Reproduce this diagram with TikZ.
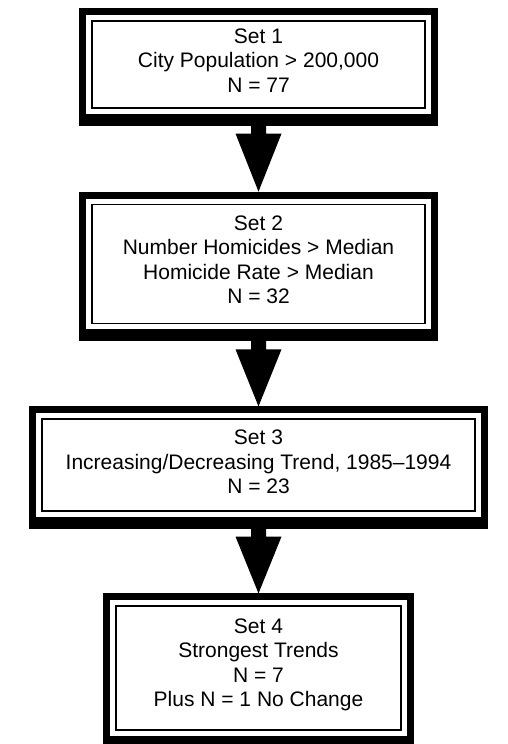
\documentclass[tikz,border=0pt]{standalone}
\usepackage{fontspec}
\setmainfont{Liberation Sans}
\usetikzlibrary{calc}
\newcommand\flowarrow[2]{%
  \coordinate (fa-s) at ([yshift=-16pt]#1.south);
  \coordinate (fa-t) at ([yshift=12pt]#2.north);
  \fill[black] ($(fa-s)+(-7.5,0)$) -- ($(fa-s)+(7.5,0)$) -- ($(fa-s)+(7.5,9)$) -- ($(fa-s)+(23,9)$) -- (fa-t) -- ($(fa-s)+(-23,9)$) -- ($(fa-s)+(-7.5,9)$) -- cycle;}
\newcommand\setframe[1]{%
  \draw[frame] ([xshift=-8.5pt,yshift=8.5pt]#1.north west) rectangle ([xshift=8.5pt,yshift=-8.5pt]#1.south east);
  \fill[black] ([xshift=-12pt,yshift=-7pt]#1.south west) rectangle ([xshift=12pt,yshift=-17pt]#1.south east);}
\begin{document}
\begin{tikzpicture}[x=1pt,y=-1pt,
  setbox/.style={draw, line width=1.2pt, inner sep=0pt},
  settext/.style={inner sep=0pt, align=center, font=\fontsize{21}{24.5}\selectfont},
  frame/.style={line width=7pt}]
\useasboundingbox (0,0) rectangle (507,744);
\node[setbox, minimum width=333pt, minimum height=87pt] (b1) at (258.5,64.5) {};
\node[setbox, minimum width=333pt, minimum height=119.5pt] (b2) at (258.5,264) {};
\node[setbox, minimum width=433pt, minimum height=92pt] (b3) at (258.5,465) {};
\node[setbox, minimum width=285pt, minimum height=124pt] (b4) at (258.5,668) {};
\node[settext] (t1) at ([yshift=4pt]b1.center) {Set 1\\City Population > 200,000\\N = 77};
\node[settext] (t2) at ([yshift=4pt]b2.center) {Set 2\\Number Homicides > Median\\Homicide Rate > Median\\N = 32};
\node[settext] (t3) at ([yshift=3pt]b3.center) {Set 3\\Increasing/Decreasing Trend, 1985–1994\\N = 23};
\node[settext] (t4) at ([yshift=3pt]b4.center) {Set 4\\Strongest Trends\\N = 7\\Plus N = 1 No Change};
\setframe{b1}
\setframe{b2}
\setframe{b3}
\setframe{b4}
\flowarrow{b1}{b2}
\flowarrow{b2}{b3}
\flowarrow{b3}{b4}
\end{tikzpicture}
\end{document}
